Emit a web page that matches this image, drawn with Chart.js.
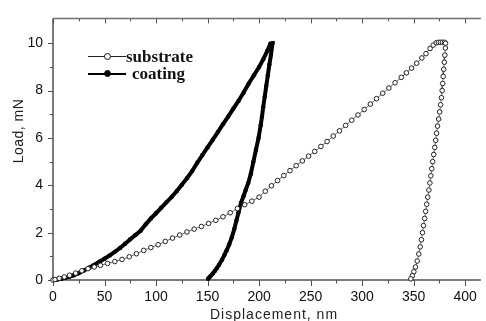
<!DOCTYPE html>
<html>
<head>
<meta charset="utf-8">
<script src="https://cdn.jsdelivr.net/npm/chart.js@4.4.0/dist/chart.umd.min.js"></script>
<style>
  html, body { margin: 0; padding: 0; background: #fff; }
  #wrap { position: relative; width: 486px; height: 321px; overflow: hidden; }
  .lbl { position: absolute; font-family: "Liberation Sans", Arial, sans-serif; font-size: 14px; line-height: 14px; color: #222; white-space: nowrap; }
  .leg { position: absolute; font-family: "Liberation Serif", "Times New Roman", serif; font-weight: bold; font-size: 17px; line-height: 17px; color: #111; white-space: nowrap; }
  .legline { position: absolute; height: 1px; background: #222; }
  .legdot { position: absolute; width: 5px; height: 5px; border-radius: 50%; border: 1px solid #111; }
</style>
</head>
<body>
<div id="wrap">
  <canvas id="loadChart" width="486" height="321"></canvas>
  <div class="lbl" style="left:210px; top:307px; letter-spacing:1px;">Displacement, nm</div>
  <div class="lbl" style="left:-22px; top:124px; width:80px; text-align:center; letter-spacing:0.5px; transform:rotate(-90deg);">Load, mN</div>
  <div class="legline" style="left:88px; top:56px; width:38px;"></div>
  <div class="legdot" style="left:104px; top:53px; background:#fff;"></div>
  <div class="leg" style="left:126px; top:48px;">substrate</div>
  <div class="legline" style="left:88px; top:73px; width:38px; height:2px; background:#000;"></div>
  <div class="legdot" style="left:104px; top:70px; background:#000;"></div>
  <div class="leg" style="left:132px; top:65px;">coating</div>
</div>
<script>
// Substrate: loading then unloading (nm, mN)
var substrateX = [0, 2, 6, 11, 16, 22, 28, 34, 40, 46, 53, 60, 67, 74, 81, 88, 95, 102, 109, 116,
  123, 130, 137, 144, 151, 158, 165, 172, 179, 186, 193, 200, 206, 212, 218, 224, 230, 236, 242, 248,
  254, 260, 266, 272, 278, 284, 290, 296, 302, 308, 314, 320, 326, 332, 338, 343, 348, 353, 358, 362,
  366, 369, 372, 374, 376, 378, 380, 381,
  380.8, 380.3, 379.8, 379.2, 378.7, 378.2, 377.7, 377, 376.2, 375.3, 374.3, 373.2, 372.3, 371.4, 370.5,
  369.5, 368.5, 367.6, 366.7, 365.8, 364.8, 363.7, 362.7, 361.7, 360.7, 359.6, 358.6, 357.6, 356.4,
  355, 353.5, 351.8, 350.2, 348.8, 347.3];
var substrateY = [0, 0.02, 0.07, 0.13, 0.2, 0.29, 0.39, 0.48, 0.55, 0.62, 0.7, 0.78, 0.87, 0.98, 1.11, 1.25, 1.37, 1.49, 1.63, 1.77,
  1.9, 2.03, 2.15, 2.26, 2.39, 2.52, 2.67, 2.84, 3.02, 3.18, 3.33, 3.5, 3.75, 3.98, 4.2, 4.41, 4.62, 4.83, 5.03, 5.23,
  5.43, 5.64, 5.85, 6.08, 6.3, 6.53, 6.75, 6.97, 7.2, 7.43, 7.66, 7.89, 8.11, 8.33, 8.56, 8.75, 8.95, 9.16, 9.38, 9.56,
  9.78, 9.92, 10.02, 10.04, 10.04, 10.04, 10.04, 10.0,
  9.8, 9.5, 9.2, 8.9, 8.6, 8.3, 8, 7.7, 7.4, 7.1, 6.8, 6.5, 6.2, 5.9, 5.6,
  5.3, 5, 4.7, 4.4, 4.1, 3.8, 3.5, 3.2, 2.9, 2.6, 2.3, 2, 1.7, 1.4,
  1.1, 0.8, 0.55, 0.35, 0.18, 0.05];

// Coating: loading then unloading (nm, mN)
var coatingX = [0, 4, 8, 12, 16, 20, 25, 30, 35, 40, 45, 50, 55, 60, 65, 70, 75, 80, 85, 90,
  95, 100, 105, 110, 115, 120, 125, 130, 135, 140, 145, 150, 155, 160, 165, 170, 175, 180, 185, 190,
  195, 200, 204, 208, 211, 213,
  211.5, 210, 208.5, 207, 205.5, 204, 202.8, 201.6, 199.5, 197, 194.5, 192, 189.5, 187, 185, 182.5,
  180, 178, 176, 173.5, 171, 168.5, 166.5, 164, 161, 159, 157, 155, 153, 151.5, 150.5];
var coatingY = [0, 0.02, 0.05, 0.09, 0.14, 0.2, 0.29, 0.4, 0.52, 0.64, 0.77, 0.9, 1.04, 1.19, 1.35, 1.53, 1.72, 1.9, 2.08, 2.35,
  2.6, 2.82, 3.05, 3.28, 3.5, 3.75, 4.02, 4.3, 4.6, 4.95, 5.28, 5.6, 5.92, 6.25, 6.58, 6.9, 7.24, 7.56, 7.92, 8.3,
  8.65, 9, 9.32, 9.68, 9.98, 10,
  9.5, 9.1, 8.65, 8.2, 7.75, 7.3, 6.9, 6.54, 6, 5.5, 5, 4.49, 4.1, 3.8, 3.55, 3.26,
  2.85, 2.5, 2.16, 1.8, 1.5, 1.25, 1.07, 0.85, 0.63, 0.5, 0.38, 0.27, 0.17, 0.1, 0.05];

// Axis ticks
var xTicks = [0, 50, 100, 150, 200, 250, 300, 350, 400];
var xMinor = [25, 75, 125, 175, 225, 275, 325, 375];
var yTicks = [0, 2, 4, 6, 8, 10];
var yMinor = [1, 3, 5, 7, 9];

function toPoints(xs, ys) {
  return xs.map(function(x, i) { return { x: x, y: ys[i] }; });
}

// Frame with major/minor tick marks (bottom, left, top)
var framePlugin = {
  id: 'frame',
  beforeDatasetsDraw: function(chart) {
    var ctx = chart.ctx;
    var a = chart.chartArea;
    var xs = chart.scales.x, ys = chart.scales.y;
    ctx.save();
    ctx.strokeStyle = '#505050';
    ctx.lineWidth = 1.5;
    ctx.beginPath();
    ctx.moveTo(a.left, a.top);
    ctx.lineTo(a.left, a.bottom);
    ctx.lineTo(a.right, a.bottom);
    ctx.stroke();

    ctx.lineWidth = 1;
    ctx.beginPath();
    xTicks.forEach(function(v) {
      var p = Math.round(xs.getPixelForValue(v)) + 0.5;
      ctx.moveTo(p, a.bottom); ctx.lineTo(p, a.bottom + 6);
      ctx.moveTo(p, a.top); ctx.lineTo(p, a.top + 5);
    });
    xMinor.forEach(function(v) {
      var p = Math.round(xs.getPixelForValue(v)) + 0.5;
      ctx.moveTo(p, a.bottom); ctx.lineTo(p, a.bottom + 3.5);
      ctx.moveTo(p, a.top); ctx.lineTo(p, a.top + 3);
    });
    yTicks.forEach(function(v) {
      var p = Math.round(ys.getPixelForValue(v)) + 0.5;
      ctx.moveTo(a.left, p); ctx.lineTo(a.left - 5, p);
    });
    yMinor.forEach(function(v) {
      var p = Math.round(ys.getPixelForValue(v)) + 0.5;
      ctx.moveTo(a.left, p); ctx.lineTo(a.left - 3, p);
    });
    ctx.stroke();

    ctx.strokeStyle = '#707070';
    ctx.lineWidth = 1.5;
    ctx.beginPath();
    ctx.moveTo(a.left, a.top);
    ctx.lineTo(a.right, a.top);
    ctx.stroke();
    ctx.restore();
  }
};

var ctx = document.getElementById('loadChart').getContext('2d');
new Chart(ctx, {
  type: 'scatter',
  data: {
    datasets: [{
      label: 'substrate',
      data: toPoints(substrateX, substrateY),
      showLine: true,
      borderColor: '#444',
      borderWidth: 0.8,
      pointRadius: 2.3,
      pointBorderWidth: 1,
      pointBorderColor: '#222',
      pointBackgroundColor: '#fff',
      clip: 6
    }, {
      label: 'coating',
      data: toPoints(coatingX, coatingY),
      showLine: true,
      borderColor: '#000',
      borderWidth: 4,
      pointRadius: 2.2,
      pointBorderWidth: 0,
      pointBackgroundColor: '#000',
      clip: 6
    }]
  },
  options: {
    responsive: false,
    animation: false,
    devicePixelRatio: 1,
    layout: { padding: { top: 12, right: 0, left: 0, bottom: 0 } },
    plugins: { legend: { display: false }, tooltip: { enabled: false } },
    scales: {
      x: {
        type: 'linear',
        min: 0,
        max: 415.3,
        grid: { display: false, drawTicks: false },
        border: { display: false },
        afterBuildTicks: function(s) { s.ticks = xTicks.map(function(v) { return { value: v }; }); },
        afterFit: function(s) { s.height = 41; },
        ticks: {
          padding: 9,
          maxRotation: 0,
          color: '#111',
          font: { family: 'Liberation Sans', size: 14 }
        }
      },
      y: {
        type: 'linear',
        min: 0,
        max: 11.05,
        grid: { display: false, drawTicks: false },
        border: { display: false },
        afterBuildTicks: function(s) { s.ticks = yTicks.map(function(v) { return { value: v }; }); },
        afterFit: function(s) { s.width = 53; },
        ticks: {
          padding: 10,
          color: '#111',
          font: { family: 'Liberation Sans', size: 14 }
        }
      }
    }
  },
  plugins: [framePlugin]
});
</script>
</body>
</html>
